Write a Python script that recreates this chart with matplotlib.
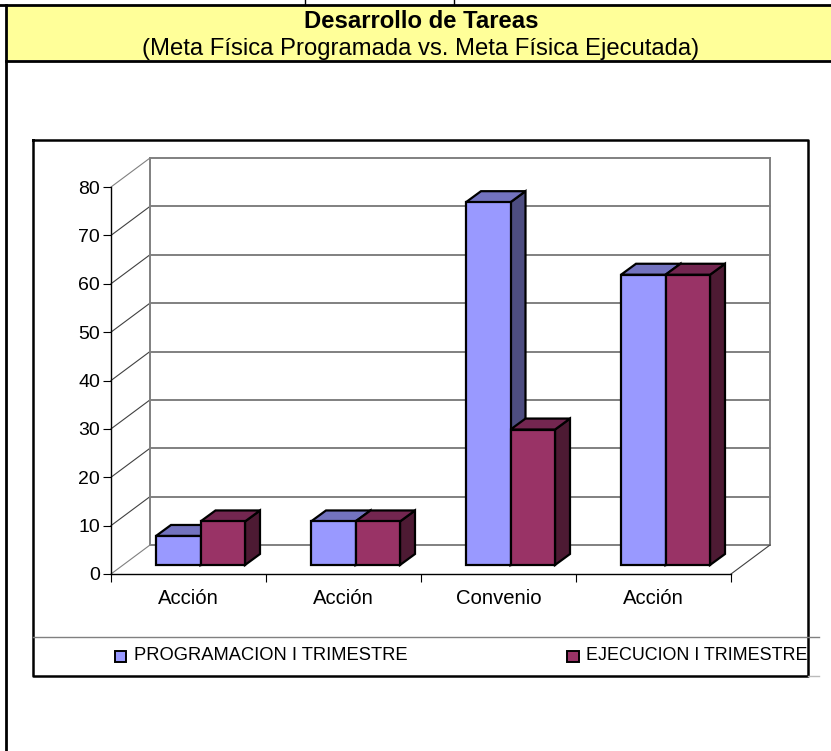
import matplotlib
matplotlib.use('Agg')
import matplotlib.pyplot as plt
from matplotlib.patches import Polygon, Rectangle

plt.rcParams['font.family'] = ['Liberation Sans', 'DejaVu Sans']

W, H = 831, 751

categories = ['Acción', 'Acción', 'Convenio', 'Acción']
programacion = [6, 9, 75, 60]
ejecucion = [9, 9, 28, 60]
series_names = ['PROGRAMACION I TRIMESTRE', 'EJECUCION I TRIMESTRE']
yticks = [0, 10, 20, 30, 40, 50, 60, 70, 80]

# face, top, side colours of each series
blues = ['#9999FF', '#7373BF', '#4D4D80']
reds = ['#993366', '#732650', '#4D1A33']

fig = plt.figure(figsize=(W / 100, H / 100), dpi=100, facecolor='white')

# page layer in pixel coordinates
page = fig.add_axes([0, 0, 1, 1])
page.set_xlim(0, W)
page.set_ylim(H, 0)
page.axis('off')
page.add_patch(Rectangle((6, 5), W, 55, fc='#FFFF99', ec='none'))
page.plot([0, W], [5, 5], c='black', lw=2)
page.plot([6, W], [61, 61], c='black', lw=2)
page.plot([6, 6], [5, H], c='black', lw=2)
page.plot([305, 305], [0, 5], c='black', lw=1)
page.plot([454, 454], [0, 5], c='black', lw=1)
page.text(421, 21, 'Desarrollo de Tareas', ha='center', va='center',
          fontsize=17.2, fontweight='bold')
page.text(421, 49, '(Meta Física Programada vs. Meta Física Ejecutada)',
          ha='center', va='center', fontsize=17.2)

# chart frame
page.plot([32.5, 808, 808, 32.5, 32.5], [139.5, 139.5, 676, 676, 139.5], c='black', lw=1.8)
page.plot([33, 819], [637, 637], c='#808080', lw=1)
page.plot([808, 819], [676, 676], c='#BBBBBB', lw=1)

# legend
page.add_patch(Rectangle((114.5, 650.5), 11.5, 11, fc=blues[0], ec='black', lw=1.4))
page.add_patch(Rectangle((567, 650.5), 11.5, 11, fc=reds[0], ec='black', lw=1.4))
page.text(134, 655.5, series_names[0], ha='left', va='center', fontsize=13.2)
page.text(586, 655.5, series_names[1], ha='left', va='center', fontsize=12.9)

# front plane of the 3d plot
x0, x1, ytop, ybot = 111, 731, 187, 574
ax = fig.add_axes([x0 / W, 1 - ybot / H, (x1 - x0) / W, (ybot - ytop) / H])
ax.set_xlim(0, len(categories))
ax.set_ylim(0, 80)
ax.patch.set_alpha(0)
for s in ['top', 'right']:
    ax.spines[s].set_visible(False)
ax.spines['left'].set_linewidth(1)
ax.spines['bottom'].set_linewidth(1)

px_x = len(categories) / (x1 - x0)
px_y = 80 / (ybot - ytop)
# depth of the plot floor, and of the bars
dx, dy = 39 * px_x, 29 * px_y
bx, by = 15 * px_x, 11 * px_y
# shift of the bars from the front plane
sx, sy = 12 * px_x, 9 * px_y
bar_w = 44.5 * px_x

n = len(categories)
gray = '#808080'
for v in yticks:
    ax.plot([dx, n + dx], [v + dy, v + dy], c=gray, lw=1.4, clip_on=False, zorder=1)
    ax.plot([0, dx], [v, v + dy], c=gray if v in (0, 80) else '#404040', lw=0.8,
            clip_on=False, zorder=1)
ax.plot([dx, dx], [dy, 80 + dy], c=gray, lw=1.4, clip_on=False, zorder=1)
ax.plot([n + dx, n + dx], [dy, 80 + dy], c=gray, lw=1.4, clip_on=False, zorder=1)
ax.plot([n, n + dx], [0, dy], c='#404040', lw=0.8, clip_on=False, zorder=1)


def draw_bar(left, val, colors, z):
    right = left + bar_w
    base = sy
    top = base + val
    ax.add_patch(Polygon([(right, base), (right + bx, base + by), (right + bx, top + by), (right, top)],
                         fc=colors[2], ec='black', lw=1.6, clip_on=False, zorder=z))
    ax.add_patch(Polygon([(left, top), (right, top), (right + bx, top + by), (left + bx, top + by)],
                         fc=colors[1], ec='black', lw=1.6, clip_on=False, zorder=z))
    ax.add_patch(Rectangle((left, base), bar_w, val, fc=colors[0], ec='black', lw=1.6,
                           clip_on=False, zorder=z))


for i in range(n):
    c = i + 0.5 + sx
    draw_bar(c - bar_w, programacion[i], blues, 3)
    draw_bar(c, ejecucion[i], reds, 4)

ax.set_yticks(yticks)
ax.set_xticks(range(n + 1))
ax.set_xticklabels([])
ax.set_xticks([i + 0.5 for i in range(n)], minor=True)
ax.set_xticklabels(categories, minor=True, fontsize=14.6)
ax.tick_params(axis='x', which='major', length=6, width=0.8)
ax.tick_params(axis='x', which='minor', length=0, pad=11)
ax.tick_params(axis='y', length=6, width=0.8, labelsize=14, pad=2)

plt.savefig('out.png', dpi=100)
